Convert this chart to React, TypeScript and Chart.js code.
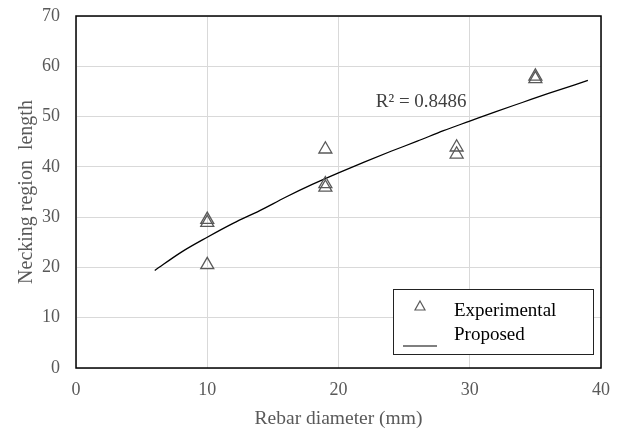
import React, { useEffect, useRef } from "react";
import { Chart, registerables } from "chart.js";

Chart.register(...registerables);

// Experimental points
const expX = [10, 10, 10, 19, 19, 19, 29, 29, 35, 35];
const expY = [29.5, 28.9, 20.5, 43.5, 36.6, 35.9, 43.9, 42.5, 58.0, 57.5];

// Proposed curve
const propX = [6, 8, 10, 12, 14, 16, 18, 20, 22, 24, 26, 28, 30, 32, 34, 36, 38, 39];
const propY = [19.4, 23.0, 26.0, 28.8, 31.3, 34.0, 36.5, 38.8, 41.0, 43.1, 45.1, 47.2, 49.1, 51.0, 52.8, 54.6, 56.3, 57.2];

const xTicks = [0, 10, 20, 30, 40];
const yTicks = [0, 10, 20, 30, 40, 50, 60, 70];

const seriesNames = ["Experimental", "Proposed"];
const r2Label = "R² = 0.8486";
const r2Pos = { x: 26.3, y: 52.9 };
const xTitle = "Rebar diameter (mm)";
const yTitle = "Necking region  length";

const FONT = "'Liberation Serif', 'Times New Roman', serif";
const GRAY = "#595959";

const framePlugin = {
  id: "frame",
  afterDraw(chart: any) {
    const { ctx, chartArea: a, scales } = chart;
    ctx.save();
    // plot border
    ctx.strokeStyle = "#000";
    ctx.lineWidth = 1.5;
    ctx.strokeRect(a.left, a.top, a.right - a.left, a.bottom - a.top);
    // R² label
    ctx.fillStyle = "#404040";
    ctx.font = `19px ${FONT}`;
    ctx.textAlign = "center";
    ctx.textBaseline = "middle";
    ctx.fillText(r2Label, scales.x.getPixelForValue(r2Pos.x), scales.y.getPixelForValue(r2Pos.y));
    // legend
    const lx = a.right - 208;
    const ly = a.bottom - 79;
    const lw = 200;
    const lh = 65;
    ctx.fillStyle = "#fff";
    ctx.fillRect(lx, ly, lw, lh);
    ctx.strokeStyle = "#222";
    ctx.lineWidth = 1;
    ctx.strokeRect(lx + 0.5, ly + 0.5, lw, lh);
    // triangle symbol
    const tx = lx + 27;
    const ty = ly + 17;
    ctx.strokeStyle = GRAY;
    ctx.lineWidth = 1.2;
    ctx.beginPath();
    ctx.moveTo(tx, ty - 5);
    ctx.lineTo(tx + 5, ty + 4);
    ctx.lineTo(tx - 5, ty + 4);
    ctx.closePath();
    ctx.stroke();
    // line symbol
    ctx.strokeStyle = "#000";
    ctx.lineWidth = 1.2;
    ctx.beginPath();
    ctx.moveTo(lx + 10, ly + 57);
    ctx.lineTo(lx + 44, ly + 57);
    ctx.stroke();
    ctx.fillStyle = "#000";
    ctx.font = `19px ${FONT}`;
    ctx.textAlign = "left";
    ctx.fillText(seriesNames[0], lx + 61, ly + 22);
    ctx.fillText(seriesNames[1], lx + 61, ly + 46);
    ctx.restore();
  },
};

export default function App() {
  const ref = useRef<HTMLCanvasElement>(null);
  useEffect(() => {
    const chart = new Chart(ref.current!, {
      type: "scatter",
      data: {
        datasets: [
          {
            label: seriesNames[0],
            data: expX.map((x, i) => ({ x, y: expY[i] })),
            pointStyle: "triangle",
            radius: 7.5,
            borderColor: GRAY,
            backgroundColor: "rgba(0,0,0,0)",
            borderWidth: 1.3,
            showLine: false,
          },
          {
            label: seriesNames[1],
            data: propX.map((x, i) => ({ x, y: propY[i] })),
            showLine: true,
            borderColor: "#000",
            borderWidth: 1.3,
            pointRadius: 0,
            cubicInterpolationMode: "monotone",
          } as any,
        ],
      },
      options: {
        animation: false,
        responsive: false,
        layout: { padding: { top: 16, right: 21, left: 0, bottom: 0 } },
        plugins: { legend: { display: false }, tooltip: { enabled: false } },
        scales: {
          x: {
            type: "linear",
            min: 0,
            max: 40,
            afterBuildTicks: (s: any) => {
              s.ticks = xTicks.map((v) => ({ value: v }));
            },
            afterFit: (s: any) => {
              s.height = 64;
              s.paddingLeft = 0;
              s.paddingRight = 0;
            },
            grid: { color: "#d9d9d9", drawTicks: false },
            border: { display: false },
            ticks: { color: GRAY, font: { family: FONT, size: 18 }, padding: 11 },
            title: {
              display: true,
              text: xTitle,
              color: GRAY,
              font: { family: FONT, size: 19.5 },
              padding: { top: 1, bottom: 1 },
            },
          },
          y: {
            type: "linear",
            min: 0,
            max: 70,
            afterBuildTicks: (s: any) => {
              s.ticks = yTicks.map((v) => ({ value: v }));
            },
            afterFit: (s: any) => {
              s.width = 76;
              s.paddingTop = 0;
              s.paddingBottom = 0;
            },
            grid: { color: "#d9d9d9", drawTicks: false },
            border: { display: false },
            ticks: { color: GRAY, font: { family: FONT, size: 18 }, padding: 16 },
            title: {
              display: true,
              text: yTitle,
              color: GRAY,
              font: { family: FONT, size: 20 },
              padding: { top: 15, bottom: 15 },
            },
          },
        },
      },
      plugins: [framePlugin],
    });
    return () => chart.destroy();
  }, []);
  return (
    <div style={{ position: "fixed", left: 0, top: 0, width: 622, height: 432, background: "#fff" }}>
      <canvas ref={ref} width={622} height={432} />
    </div>
  );
}
